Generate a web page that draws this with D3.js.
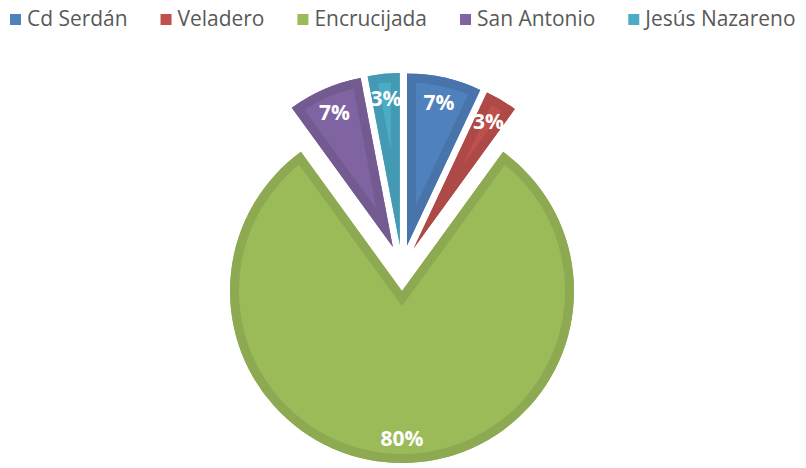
<!DOCTYPE html>
<html>
<head>
<meta charset="utf-8">
<script src="https://cdn.jsdelivr.net/npm/d3@7"></script>
<style>
  body { margin: 0; background: #fff; }
  svg { display: block; }
</style>
</head>
<body>
<svg id="chart" width="806" height="468"></svg>
<script>
const categories = ['Cd Serdán', 'Veladero', 'Encrucijada', 'San Antonio', 'Jesús Nazareno']
const values = [7, 3, 80, 7, 3]
const labels = ['7%', '3%', '80%', '7%', '3%']
const fills = ['#4f81bd', '#c0504d', '#9bbb59', '#8064a2', '#4bacc6']
const borders = ['#4873ab', '#ad4946', '#8daa52', '#735b92', '#449ab3']

let svg = d3.select('#chart')
let cx = 402, cy = 268, r = 172
let explode = 23

let pie = d3.pie().sort(null).value(d => d)
let arcs = pie(values)
let arc = d3.arc().innerRadius(0).outerRadius(r)

let defs = svg.append('defs')
let g = svg.append('g').attr('transform', 'translate(' + [cx, cy].join(',') + ')')

arcs.forEach(function(d, i) {
  let mid = (d.startAngle + d.endAngle) / 2
  let ox = explode * Math.sin(mid)
  let oy = -explode * Math.cos(mid)
  let slice = g.append('g').attr('transform', 'translate(' + [ox, oy].join(',') + ')')
  let path = arc(d)

  defs.append('clipPath').attr('id', 'clip' + i)
    .append('path').attr('d', path)

  slice.append('path')
    .attr('d', path)
    .attr('fill', fills[i])
  // border band lives inside the slice, like the excel one
  slice.append('path')
    .attr('d', path)
    .attr('fill', 'none')
    .attr('stroke', borders[i])
    .attr('stroke-width', 18)
    .attr('stroke-linejoin', 'miter')
    .attr('stroke-miterlimit', 20)
    .attr('clip-path', 'url(#clip' + i + ')')

  let lr = 147
  slice.append('text')
    .attr('x', lr * Math.sin(mid))
    .attr('y', -lr * Math.cos(mid))
    .attr('dy', '0.36em')
    .attr('text-anchor', 'middle')
    .attr('fill', '#fff')
    .attr('font-family', 'Open Sans, sans-serif')
    .attr('font-weight', 'bold')
    .attr('font-size', 21)
    .text(labels[i])
})

// legend
let legend = svg.append('g').attr('font-family', 'Open Sans, sans-serif')
let fontSize = 20
let items = legend.selectAll('g').data(categories).enter().append('g')
items.append('rect')
  .attr('width', 11).attr('height', 11)
  .attr('y', 14)
  .attr('fill', (d, i) => fills[i])
let texts = items.append('text')
  .attr('x', 17)
  .attr('y', 26)
  .attr('fill', '#595959')
  .attr('font-size', fontSize)
  .text(d => d)

// scale the font so the legend spans the same width as the original
let total = 0
texts.each(function() { total += this.getComputedTextLength() })
fontSize = fontSize * 569 / total
texts.attr('font-size', fontSize)

let x = 10
items.each(function() {
  let el = d3.select(this)
  el.attr('transform', 'translate(' + x + ',0)')
  x += 17 + el.select('text').node().getComputedTextLength() + 33
})
</script>
</body>
</html>
